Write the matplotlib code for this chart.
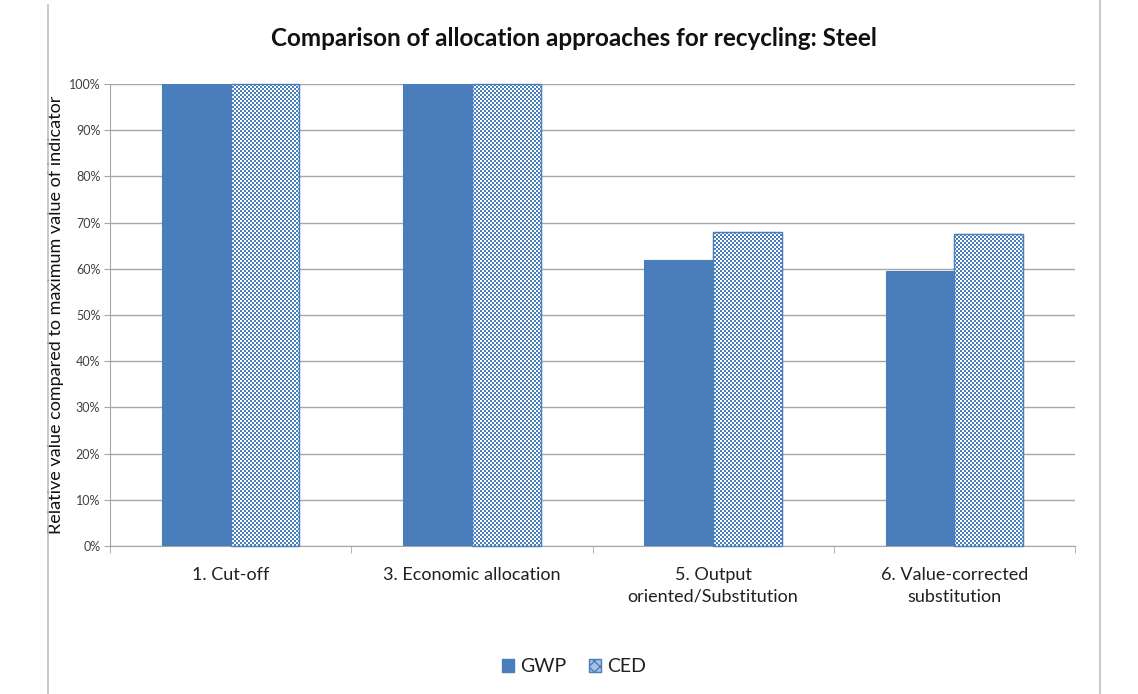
import numpy as np
import matplotlib
matplotlib.use("Agg")
import matplotlib.pyplot as plt
from matplotlib.lines import Line2D
from matplotlib.patches import Patch, Rectangle

categories = ["1. Cut-off", "3. Economic allocation", "5. Output\noriented/Substitution",
              "6. Value-corrected\nsubstitution"]
gwp = [100, 100, 62, 59.5]
ced = [100, 100, 68, 67.5]
yticks = [0, 10, 20, 30, 40, 50, 60, 70, 80, 90, 100]
ytick_labels = [f"{v}%" for v in yticks]

BLUE = "#4A7EBB"
plt.rcParams['font.family'] = ['Lato', 'DejaVu Sans']

fig = plt.figure(figsize=(11.38, 6.94), dpi=100)
ax = fig.add_axes([110/1138, 1-546/694, (1075-110)/1138, (546-84)/694])

x = np.arange(len(categories))
w = 0.285
ax.set_xlim(-0.5, len(categories) - 0.5)
ax.set_ylim(0, 100)

ax.bar(x - w/2, gwp, width=w, color=BLUE, edgecolor=BLUE, linewidth=0.8, zorder=3)
ced_bars = ax.bar(x + w/2, ced, width=w, facecolor="white", edgecolor=BLUE, linewidth=0.8, zorder=3)

# checkerboard pattern placed in pixel space (no resampling), clipped to CED bars
H, W = 694, 1138
cell = 2
ii, jj = np.mgrid[0:H, 0:W]
chk = ((ii // cell) + (jj // cell)) % 2
rgb = np.ones((H, W, 3))
b = np.array([0x4A, 0x7E, 0xBB]) / 255.0
rgb[chk == 1] = b
for bar in ced_bars:
    im = fig.figimage(rgb, xo=0, yo=0, origin='upper', zorder=2)
    im.set_clip_path(bar)
    outline = Rectangle(bar.get_xy(), bar.get_width(), bar.get_height(), transform=ax.transData,
                        fill=False, edgecolor=BLUE, linewidth=1.0, zorder=3)
    fig.add_artist(outline)

ax.set_yticks(yticks)
ax.set_yticklabels(ytick_labels, fontsize=9, color="#404040")
ax.yaxis.grid(True, color="#A6A6A6", linewidth=1.0, zorder=0)
ax.set_axisbelow(True)
ax.tick_params(axis='y', length=4, color="#A6A6A6", pad=3)

ax.set_xticks(x)
ax.set_xticklabels(categories, fontsize=13, color="#202020", linespacing=1.45)
ax.set_xticks(np.arange(-0.5, len(categories)), minor=True)
ax.tick_params(axis='x', which='major', length=0, pad=15)
ax.tick_params(axis='x', which='minor', length=5, color="#A6A6A6")

for s in ["top", "right"]:
    ax.spines[s].set_visible(False)
ax.spines["left"].set_color("#A6A6A6")
ax.spines["bottom"].set_color("#A6A6A6")

ax.set_ylabel("Relative value compared to maximum value of indicator", fontsize=13,
              color="#111111", labelpad=3)

fig.text(574/1138, 1-38/694, "Comparison of allocation approaches for recycling: Steel",
         ha="center", va="center", fontsize=17.5, fontweight="bold", color="#111111")

handles = [Patch(facecolor=BLUE, edgecolor=BLUE),
           Patch(facecolor="#A9C2E3", edgecolor=BLUE, hatch="xxx")]
leg = fig.legend(handles, ["GWP", "CED"], loc="center", bbox_to_anchor=(574/1138, 1-667/694),
                 ncol=2, frameon=False, fontsize=14, handlelength=0.6, handleheight=0.6,
                 handletextpad=0.3, columnspacing=1.2)
for t in leg.get_texts():
    t.set_color("#202020")

# chart border lines
fig.add_artist(Line2D([48/1138, 48/1138], [0, 1-5/694], transform=fig.transFigure,
                      color="#BFBFBF", linewidth=1.2))
fig.add_artist(Line2D([1100/1138, 1100/1138], [0, 1], transform=fig.transFigure,
                      color="#BFBFBF", linewidth=1.2))

fig.savefig("out.png", dpi=100)
